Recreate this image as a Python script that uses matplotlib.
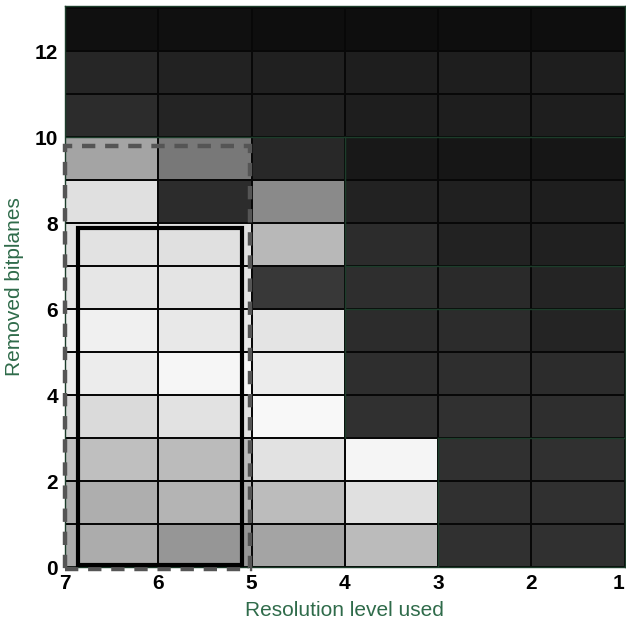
import numpy as np
import matplotlib
matplotlib.use("Agg")
import matplotlib.pyplot as plt
from matplotlib.patches import Rectangle

plt.rcParams['font.family'] = ['Liberation Sans', 'DejaVu Sans']

# column edges (resolution level, drawn right-to-left) and row edges (bitplanes)
res_edges = [7, 6, 5, 4, 3, 2, 1]
bit_edges = list(range(14))

# gray level (0-255) per cell: one row per removed-bitplane count (0 at bottom),
# columns follow res_edges from left to right
gray_rows = [
    [172, 150, 164, 187, 48, 48],
    [174, 180, 188, 224, 48, 48],
    [191, 187, 226, 245, 48, 48],
    [218, 226, 248, 48, 48, 46],
    [236, 246, 236, 46, 46, 44],
    [240, 232, 228, 44, 44, 36],
    [230, 228, 56, 46, 42, 36],
    [226, 224, 184, 44, 34, 32],
    [224, 44, 138, 34, 32, 30],
    [164, 120, 40, 24, 22, 22],
    [44, 36, 34, 30, 30, 30],
    [38, 34, 32, 30, 30, 30],
    [16, 16, 14, 14, 14, 14],
]

x_ticks = [7, 6, 5, 4, 3, 2, 1]
y_ticks = [0, 2, 4, 6, 8, 10, 12]

green = '#2f6b4a'
dark_green = '#1c3d2a'

fig = plt.figure(figsize=(6.26, 6.24), dpi=100)
ax = fig.add_axes([0.104, 0.091, 0.894, 0.899])

vals = np.array(gray_rows, dtype=float)
ax.pcolormesh(res_edges, bit_edges, vals, cmap='gray', vmin=0, vmax=255,
              edgecolors='#080808', linewidth=1.1)

# dark green region outlines
ax.plot([7, 1], [10, 10], color=dark_green, lw=1.0)
ax.plot([4, 4], [10, 3], color=dark_green, lw=1.0)
ax.plot([4, 1], [7, 7], color=dark_green, lw=1.0)
ax.plot([4, 1], [6, 6], color=dark_green, lw=1.0)
ax.plot([3, 1], [3, 3], color=dark_green, lw=1.0)
ax.plot([3, 3], [3, 0], color=dark_green, lw=1.0)

# highlighted regions
ax.add_patch(Rectangle((7.0, -0.05), -1.98, 9.85, fill=False, ec='#555555',
                       lw=3.2, ls=(0, (3, 2.2)), zorder=5, clip_on=False))
ax.add_patch(Rectangle((6.86, 0.05), -1.76, 7.85, fill=False, ec='black',
                       lw=3.0, zorder=6, clip_on=False))

ax.set_xlim(7, 1)
ax.set_ylim(0, 13.05)
ax.set_xticks(x_ticks)
ax.set_yticks(y_ticks)
ax.tick_params(length=0, labelsize=15, pad=5)
for lab in ax.get_xticklabels() + ax.get_yticklabels():
    lab.set_fontweight('bold')
# keep the last label ("1") inside the canvas
ax.get_xticklabels()[-1].set_horizontalalignment('right')

ax.set_xlabel('Resolution level used', color=green, fontsize=15, labelpad=6)
ax.set_ylabel('Removed bitplanes', color=green, fontsize=15, labelpad=8)

for sp in ax.spines.values():
    sp.set_color(dark_green)
    sp.set_linewidth(1.0)

fig.savefig('out.png', dpi=100)
